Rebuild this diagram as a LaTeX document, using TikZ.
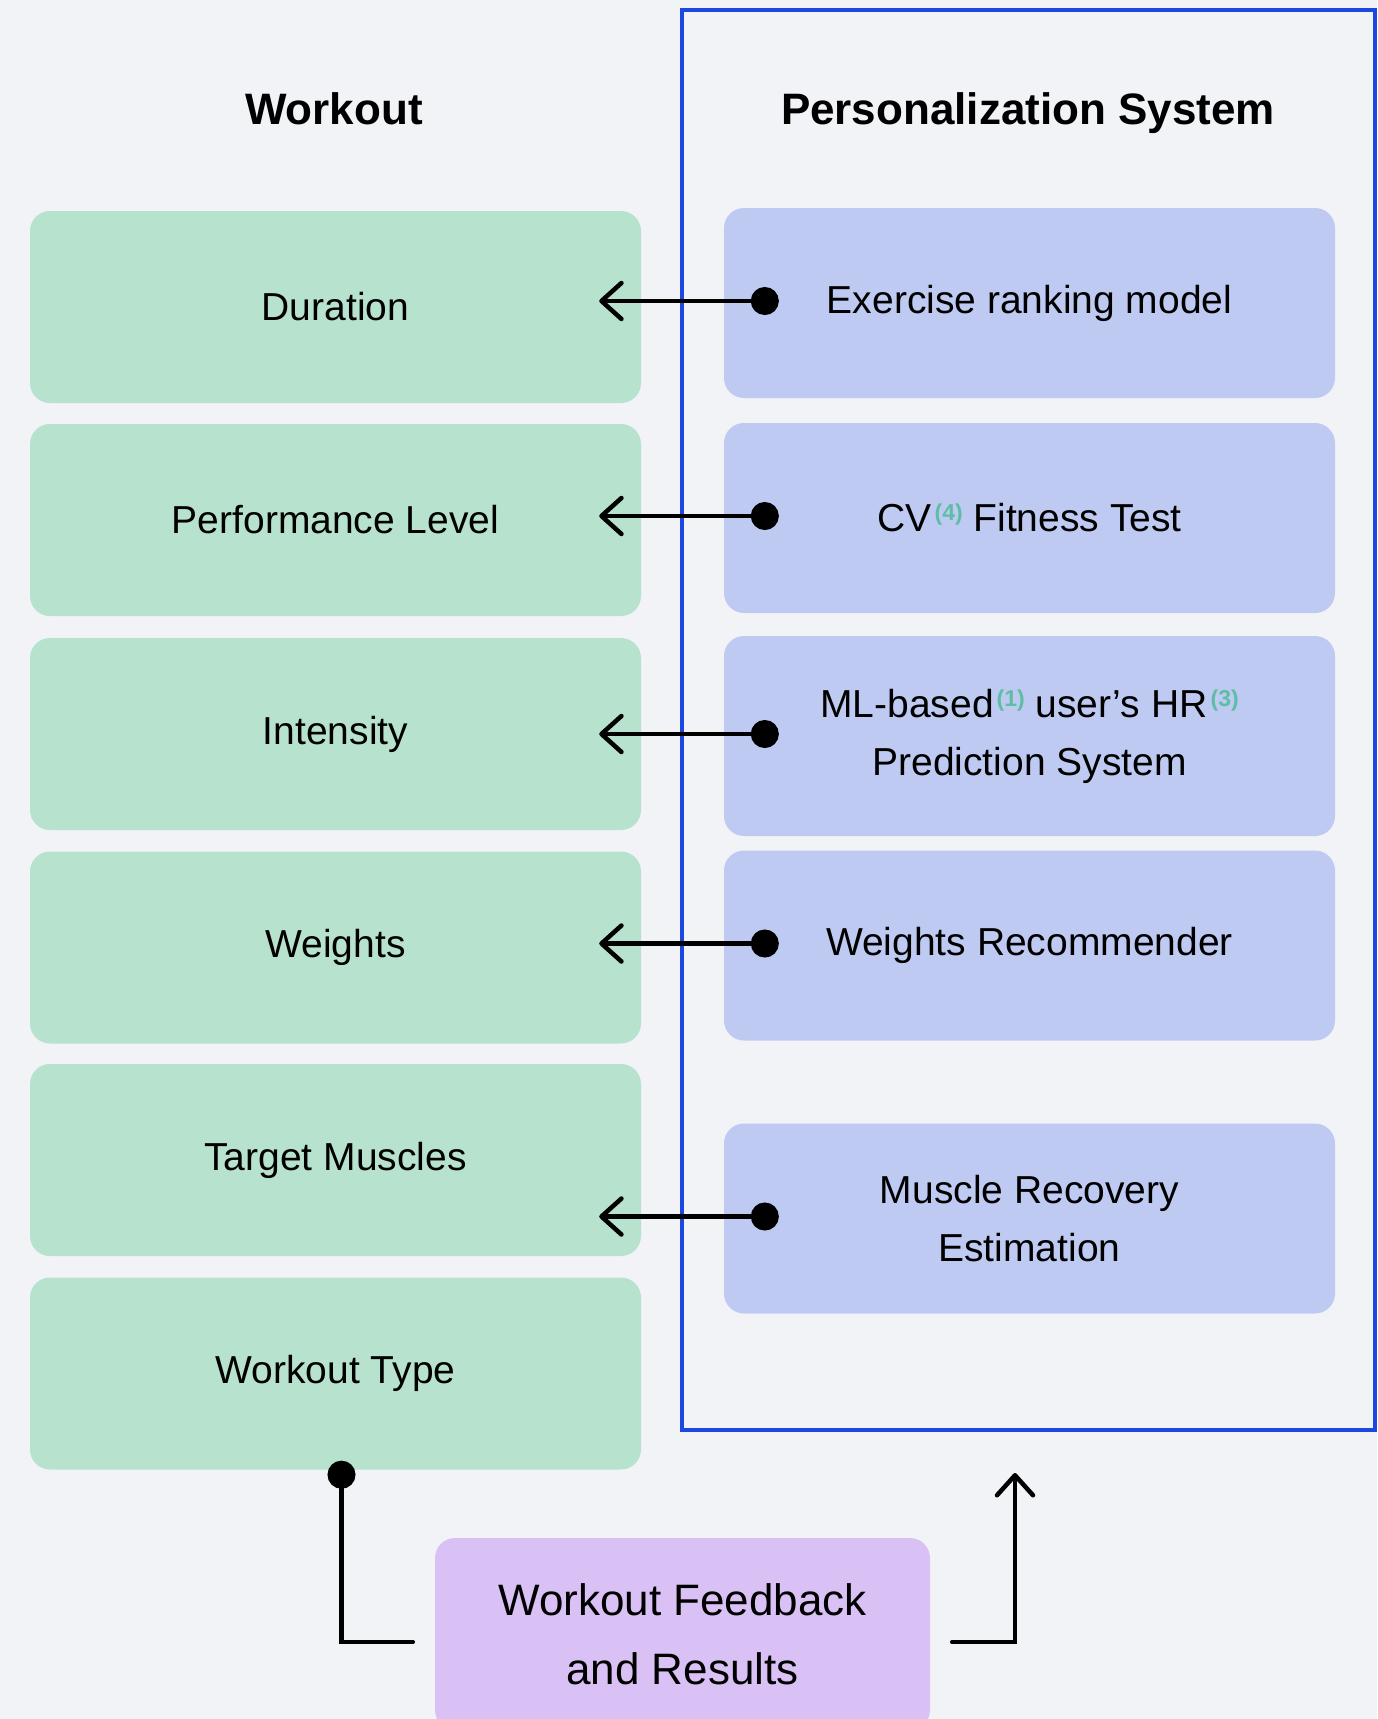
\documentclass[tikz,border=0pt]{standalone}
\usepackage{fontspec}
\setmainfont{Liberation Sans}
\usetikzlibrary{arrows.meta, positioning}
\definecolor{pageBg}{HTML}{F2F3F7}
\definecolor{partGreen}{HTML}{B7E3CE}
\definecolor{toolBlue}{HTML}{BECAF2}
\definecolor{fbPurple}{HTML}{DAC1F5}
\definecolor{frameBlue}{HTML}{1A48E0}
\definecolor{noteTeal}{HTML}{5EBEA5}
\newcommand{\refmark}[1]{\hspace{3pt}\raisebox{11pt}[0pt][0pt]{\fontsize{23pt}{23pt}\selectfont\bfseries\color{noteTeal}(#1)}}

\begin{document}
\begin{tikzpicture}[x=1pt, y=-1pt,
   part/.style={rectangle, rounded corners=20pt, fill=partGreen, minimum width=611pt,
                minimum height=192pt, font=\fontsize{39pt}{58pt}\selectfont,
                align=center, inner sep=0pt},
   tool/.style={part, fill=toolBlue, minimum height=190pt},
   head/.style={font=\fontsize{44pt}{52pt}\selectfont\bfseries, anchor=base},
   link/.style={line width=4.5pt, line cap=round,
                {Circle[length=28pt]}-{Straight Barb[length=20pt, width=36pt, round]}}]

\path[use as bounding box, fill=pageBg] (0,0) rectangle (1377,1719);
\clip (0,0) rectangle (1377,1719);

% frame and titles
\node[draw=frameBlue, line width=3.5pt, minimum width=693pt, minimum height=1420pt,
      outer sep=0pt] (frame) at (1028.5,720) {};
\node[head] (wtitle) at (334,124) {Workout};
\node[head] (ptitle) at (1028,124) {Personalization System};

% workout parameters
\node[part] (dur)   at (335.5,307)    {Duration};
\node[part] (perf)  at (335.5,520)    {Performance Level};
\node[part] (inten) at (335.5,734)    {Intensity};
\node[part] (wgt)   at (335.5,947.5)  {Weights};
\node[part] (musc)  at (335.5,1160)   {Target Muscles};
\node[part] (wtype) at (335.5,1373.5) {Workout Type};

% personalization models
\node[tool] (rank) at (1029.5,303)   {Exercise ranking model};
\node[tool] (cv)   at (1029.5,518)   {CV\refmark{4} Fitness Test};
\node[tool, minimum height=200pt] (hr) at (1029.5,736)
     {ML-based\refmark{1} user’s HR\refmark{3}\\Prediction System};
\node[tool] (wrec) at (1029.5,945.5) {Weights Recommender};
\node[tool] (mrec) at (1029.5,1218.5) {Muscle Recovery\\Estimation};

\foreach \src/\dst in {rank/dur, cv/perf, hr/inten, wrec/wgt, mrec/musc}
  \draw[link] ([xshift=55pt, yshift=2pt]\src.west) -- ([xshift=-42pt, yshift=2pt]\src.west -| \dst.east);

% feedback loop
\node[part, fill=fbPurple, minimum width=495pt, minimum height=192pt,
      font=\fontsize{44pt}{69pt}\selectfont] (fb) at (682.5,1634)
     {Workout Feedback\\and Results};
\draw[link, {Circle[length=28pt]}-]
     ([xshift=6pt, yshift=9pt]wtype.south) |- ([xshift=-22pt, yshift=-8pt]fb.west);
\draw[link, -{Straight Barb[length=20pt, width=36pt, round]}]
     ([xshift=22pt, yshift=-8pt]fb.east) -| ([xshift=-13.5pt, yshift=-43pt]frame.south);
\end{tikzpicture}
\end{document}
